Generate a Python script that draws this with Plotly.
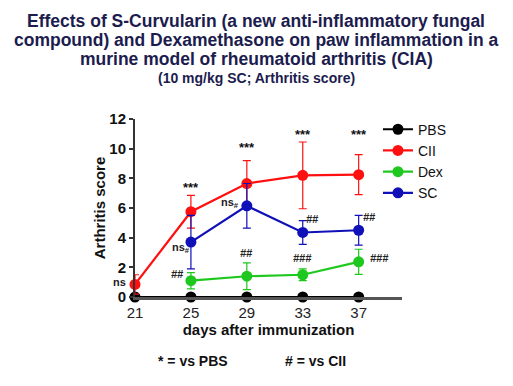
import plotly.graph_objects as go

days = [21, 25, 29, 33, 37]
pbs = [0, 0, 0, 0, 0]
cii = [0.85, 5.75, 7.65, 8.2, 8.25]
cii_err = [0.65, 1.1, 1.55, 2.25, 1.35]
dex_days = [25, 29, 33, 37]
dex = [1.1, 1.4, 1.5, 2.37]
dex_err = [0.55, 0.9, 0.4, 0.85]
sc_days = [25, 29, 33, 37]
sc = [3.7, 6.15, 4.35, 4.5]
sc_err = [1.8, 1.5, 0.8, 1.0]

yticks = [0, 2, 4, 6, 8, 10, 12]
xticks = [21, 25, 29, 33, 37]

FONT = "Liberation Sans, Arial, sans-serif"

fig = go.Figure()

def add(name, x, y, err, color):
    fig.add_trace(go.Scatter(
        x=x, y=y, name=name, mode="lines+markers",
        line=dict(color=color, width=2.2),
        marker=dict(color=color, size=11),
        error_y=dict(type="data", array=err, visible=True,
                     color=color, thickness=1.2, width=4) if err is not None else None,
        cliponaxis=False,
    ))

add("PBS", days, pbs, None, "#000000")
add("CII", days, cii, cii_err, "#ff1010")
add("Dex", dex_days, dex, dex_err, "#1ec81e")
add("SC", sc_days, sc, sc_err, "#1010b8")

# significance annotations
stars = [(25, 7.4), (29, 10.1), (33, 10.95), (37, 10.95)]
ann = []
for x, y in stars:
    ann.append(dict(x=x, y=y, text="<b>***</b>", showarrow=False, xref="x", yref="y",
                    font=dict(size=13, color="#111", family=FONT)))
hashes = [
    (21, 0.85, "ns", -16, 2),
    (25, 3.7, "ns<sub>#</sub>", -10, -6),
    (29, 6.15, "ns<sub>#</sub>", -17, 3),
    (25, 1.1, "<i>##</i>", -13, 7),
    (29, 1.4, "<i>##</i>", 0, 23),
    (33, 1.5, "<i>###</i>", 0, 17),
    (37, 2.37, "<i>###</i>", 21, 4),
    (33, 4.35, "<i>##</i>", 10, 13),
    (37, 4.5, "<i>##</i>", 11, 13),
]
for x, y, t, dx, dy in hashes:
    ann.append(dict(x=x, y=y, text="<b>" + t + "</b>", showarrow=False, xref="x", yref="y",
                    xshift=dx, yshift=dy,
                    font=dict(size=11, color="#222", family=FONT)))

W, H = 513, 386
OFF = 8  # page body margin
L, R, T, B = 135 - OFF, 111 + OFF, 119 - OFF, 89 + OFF
pw, ph = W - L - R, H - T - B

def paper(px, py):
    # px, py: target pixel positions in the screenshot
    return (px - OFF - L) / pw, (H - B - (py - OFF)) / ph

for txt, px in [("<b>* = vs PBS</b>", 156), ("<b># = vs CII</b>", 283)]:
    x, y = paper(px, 361)
    ann.append(dict(x=x, y=y, xref="paper", yref="paper", text=txt, showarrow=False,
                    xanchor="left", yanchor="middle",
                    font=dict(size=14, color="#111", family=FONT)))

# title lines
titles = [
    ("Effects of S-Curvularin (a new anti-inflammatory fungal", 21, 17.5),
    ("compound) and Dexamethasone on paw inflammation in a", 40, 17.5),
    ("murine model of rheumatoid arthritis (CIA)", 59, 17.5),
    ("(10 mg/kg SC; Arthritis score)", 78, 14),
]
for t, py, fs in titles:
    x, y = paper(256, py)
    ann.append(dict(x=x, y=y, xref="paper", yref="paper",
                    text="<b>" + t + "</b>", showarrow=False,
                    xanchor="center", yanchor="middle",
                    font=dict(size=fs, color="#1c1c4e", family=FONT)))

fig.update_layout(
    width=W, height=H,
    margin=dict(l=L, r=R, t=T, b=B, autoexpand=False),
    paper_bgcolor="white", plot_bgcolor="white",
    font=dict(family=FONT, color="#111"),
    annotations=ann,
    showlegend=True,
    legend=dict(x=0.91, y=1.03, xanchor="left", yanchor="top",
                font=dict(size=14, color="#111", family=FONT),
                bgcolor="rgba(0,0,0,0)", itemwidth=30, tracegroupgap=0),
    xaxis=dict(range=[21, 40.1], tickvals=xticks, ticktext=[str(v) for v in xticks],
               showgrid=False, zeroline=False, showline=True, linecolor="#555",
               linewidth=2.5, ticks="", tickfont=dict(size=15, color="#222"),
               title=dict(text="<b>days after immunization</b>", font=dict(size=15),
                          standoff=4)),
    yaxis=dict(range=[0, 12], tickvals=yticks, ticktext=["<b>%d</b>" % v for v in yticks],
               showgrid=False, zeroline=False, showline=True, linecolor="#333",
               linewidth=2, ticks="outside", ticklen=4, tickwidth=2, tickcolor="#333",
               tickfont=dict(size=15, color="#111"),
               title=dict(text="<b>Arthritis score</b>", font=dict(size=15), standoff=0)),
)

fig.write_html("out.html")
